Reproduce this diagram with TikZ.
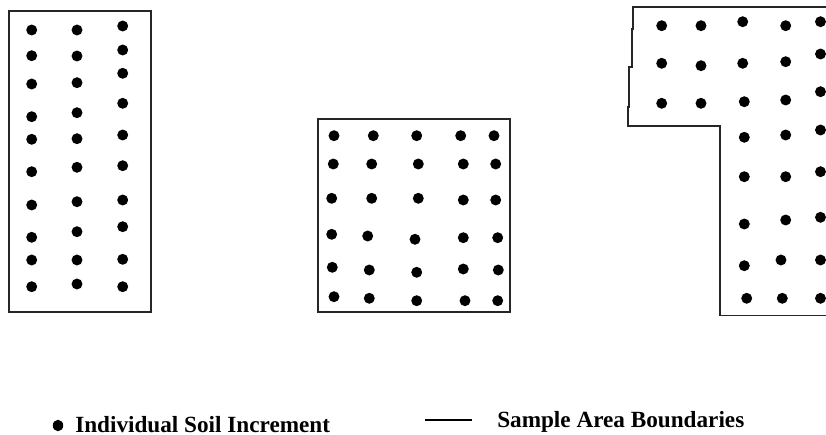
\documentclass[tikz,border=0pt]{standalone}
\usepackage{fontspec}
\setmainfont{Liberation Serif}
\begin{document}
\begin{tikzpicture}[x=0.75pt,y=-0.75pt,
  boundary/.style={draw=black!85,line width=1.4pt,line join=miter},
  incr/.style={fill=black},
  legendtext/.style={inner sep=0pt,anchor=base west,font=\bfseries\fontsize{17.4}{20}\selectfont}]
\useasboundingbox (0,0) rectangle (826,435);
\clip (0,0) rectangle (826,435);

% tall rectangular sample area (left)
\draw[boundary] (9,11) rectangle (150.7,312);
\foreach \x/\y in {31.7/30, 31.7/55.7, 31.7/84, 31.7/116.7, 31.7/139.3, 31.7/171.7, 31.7/205, 31.7/237.3, 31.7/260, 31.7/286.7,
                   77/30, 77/56, 77/82.7, 77/112.7, 77/138.7, 77/167.3, 77/201.7, 77/231.7, 77/260, 77/284,
                   122.7/26, 122.7/50, 122.7/73.3, 122.7/103.3, 122.7/135, 122.7/165.7, 122.7/200, 122.7/226.7, 122.7/259.3, 122.7/286.7}
  \fill[incr] (\x,\y) circle[radius=4.1pt];

% square sample area (middle)
\draw[boundary] (318.3,119) rectangle (510,311.7);
\foreach \x/\y in {334/135.7, 373.3/135.7, 416.7/135.7, 460.7/135.7, 494/135.7,
                   333.3/164, 371.7/164, 418.3/164, 463.3/164, 495.7/164,
                   331.7/198.3, 371.7/198.3, 418.3/198.3, 463.3/200, 495.7/200,
                   331.7/234.3, 367.7/236, 415/239.3, 463.3/237.7, 497.7/237.7,
                   332.3/267.3, 369.3/270, 416.7/272.3, 463.3/269, 498.3/270,
                   334/296.7, 369.3/298.3, 416.7/300.7, 465/300.7, 497.7/300.7}
  \fill[incr] (\x,\y) circle[radius=4.1pt];

% L-shaped sample area (right), running past the right edge
\draw[boundary] (633.3,6.7) -- (845,6.7) -- (845,315.5) -- (720,315.5) -- (720,126)
  -- (627.7,126) -- (627.7,106.7) -- (629.3,106.7) -- (629.3,66.7) -- (631.7,66.7)
  -- (631.7,29.3) -- (633.3,29.3) -- cycle;
\foreach \x/\y in {661.7/25.7, 701/25.7, 742.7/21.7, 785.7/25.7, 820.5/21.7,
                   661.7/63.3, 701/65.7, 742.7/63.3, 785.7/61.7, 820.5/54,
                   661.7/103.3, 701/103.3, 744.3/101.7, 785.7/100, 820.5/91.7,
                   744.3/137.3, 785.7/135, 820.5/130,
                   744.3/176.7, 785.7/176.7, 820.5/171.7,
                   744.3/224, 785.7/220, 820.5/217.3,
                   744.3/265.7, 781/260, 820.5/260,
                   746.7/298.3, 782.3/298.3, 820.5/298.3}
  \fill[incr] (\x,\y) circle[radius=4.1pt];

% legend
\fill[incr] (58,425.5) ellipse[x radius=3.9pt,y radius=4.3pt];
\node[legendtext] (incrlabel) at (75,432) {Individual Soil Increment};
\coordinate (lineA) at (425,420);
\coordinate (lineB) at (472,420);
\draw[line width=1.1pt] (lineA) -- (lineB);
\node[legendtext] (boundlabel) at (497,427) {Sample Area Boundaries};
\end{tikzpicture}
\end{document}
